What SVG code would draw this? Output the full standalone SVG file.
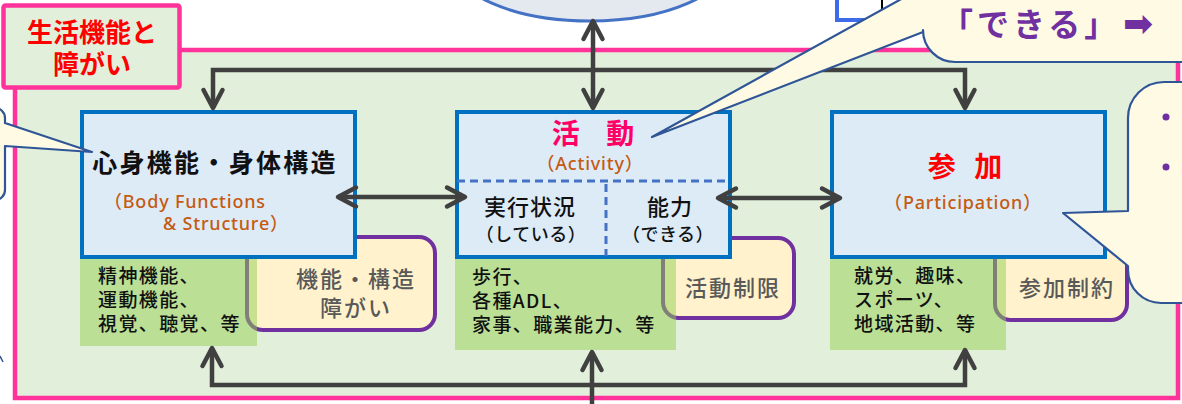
<svg xmlns="http://www.w3.org/2000/svg" width="1182" height="404" viewBox="0 0 1182 404">
<defs>
<style>
.jp{font-family:'Noto Sans CJK JP','Noto Sans',sans-serif;}
.en{font-family:'Noto Sans','Noto Sans CJK JP',sans-serif;fill:#C55A11;font-size:18px;font-weight:500;letter-spacing:0.8px;}
.blue{fill:#DDEBF7;stroke:#0070C0;stroke-width:4;}
.green{fill:#92D050;fill-opacity:0.5;}
.orange{fill:#FFF2CC;stroke:#7030A0;stroke-width:4;}
.gtxt{font-size:19px;letter-spacing:1.4px;fill:#111;font-weight:500;}
.gray{font-size:22px;letter-spacing:2px;fill:#595959;text-anchor:middle;font-weight:500;}
.bub{fill:#FFFAE3;stroke:#2F5597;stroke-width:2.2;stroke-linejoin:round;}
.con{fill:none;stroke:#404040;stroke-width:4.5;}
</style>
<marker id="ah" viewBox="-22 -13 26 26" refX="0" refY="0" markerWidth="26" markerHeight="26" markerUnits="userSpaceOnUse" orient="auto-start-reverse">
<path d="M-18,-9.5 L0,0 L-18,9.5" fill="none" stroke="#404040" stroke-width="4.5" stroke-linecap="round" stroke-linejoin="round"/>
</marker>
</defs>
<rect width="1182" height="404" fill="#FFFFFF"/>

<g id="top-ellipse">
<ellipse cx="590" cy="-39" rx="138" ry="60" fill="#E4E8EF" stroke="#4472C4" stroke-width="3"/>
</g>
<g id="top-right-box">
<path d="M837,-5 L837,20 L880,20" fill="#FFFFFF" stroke="#3D6BEA" stroke-width="4"/>
<path d="M882,-2 L882,14" stroke="#000000" stroke-width="2"/>
</g>

<g id="frame">
<rect x="15" y="50" width="1163" height="348" fill="#E2EFDA" stroke="#FF3399" stroke-width="4.5"/>
</g>
<g id="frame-label">
<rect x="3.5" y="5.5" width="176" height="82" rx="2" fill="#E2EFDA" stroke="#FF3399" stroke-width="4.5"/>
<text class="jp" x="92" y="42" font-size="26" font-weight="700" fill="#FF0000" text-anchor="middle">生活機能と</text>
<text class="jp" x="92" y="74" font-size="26" font-weight="700" fill="#FF0000" text-anchor="middle">障がい</text>
</g>

<g id="impairment">
<rect class="orange" x="247" y="237" width="188" height="93" rx="16"/>
<text class="jp gray" x="356" y="287">機能・構造</text>
<text class="jp gray" x="356" y="316">障がい</text>
</g>
<g id="activity-limitation">
<rect class="orange" x="663" y="238" width="131" height="80" rx="16"/>
<text class="jp gray" x="733" y="296">活動制限</text>
</g>
<g id="participation-restriction">
<rect class="orange" x="995" y="238" width="132" height="82" rx="16"/>
<text class="jp gray" x="1067" y="296">参加制約</text>
</g>

<g id="body-examples">
<rect class="green" x="80" y="257" width="177" height="89"/>
<text class="jp gtxt" x="98" y="283">精神機能、</text>
<text class="jp gtxt" x="98" y="307">運動機能、</text>
<text class="jp gtxt" x="98" y="331">視覚、聴覚、等</text>
</g>
<g id="activity-examples">
<rect class="green" x="455" y="257" width="221" height="93"/>
<text class="jp gtxt" x="472" y="284">歩行、</text>
<text class="jp gtxt" x="472" y="308">各種ADL、</text>
<text class="jp gtxt" x="472" y="332">家事、職業能力、等</text>
</g>
<g id="participation-examples">
<rect class="green" x="830" y="257" width="176" height="93"/>
<text class="jp gtxt" x="854" y="283">就労、趣味、</text>
<text class="jp gtxt" x="854" y="307">スポーツ、</text>
<text class="jp gtxt" x="854" y="331">地域活動、等</text>
</g>

<g id="body-functions">
<rect class="blue" x="82" y="112" width="273" height="145"/>
<text class="jp" x="215" y="172" font-size="25" font-weight="700" letter-spacing="2.3" fill="#111" text-anchor="middle">心身機能・身体構造</text>
<text class="en" x="104" y="208">（Body Functions</text>
<text class="en" x="163" y="230">&amp; Structure）</text>
</g>
<g id="activity">
<rect class="blue" x="457" y="112" width="273" height="145"/>
<text class="jp" x="598" y="144" font-size="28" font-weight="700" letter-spacing="10" fill="#FF0066" text-anchor="middle">活 動</text>
<text class="en" x="590" y="170" text-anchor="middle">（Activity）</text>
<path d="M457,181 L730,181" stroke="#4472C4" stroke-width="3" stroke-dasharray="8 5"/>
<path d="M606,184 L606,256" stroke="#4472C4" stroke-width="3" stroke-dasharray="8 5"/>
<text class="jp" x="530" y="215" font-size="22" font-weight="500" letter-spacing="1" fill="#111" text-anchor="middle">実行状況</text>
<text class="jp" x="531" y="241" font-size="18" font-weight="500" letter-spacing="0.5" fill="#111" text-anchor="middle">（している）</text>
<text class="jp" x="670" y="215" font-size="22" font-weight="500" letter-spacing="1" fill="#111" text-anchor="middle">能力</text>
<text class="jp" x="668" y="241" font-size="18" font-weight="500" letter-spacing="0.5" fill="#111" text-anchor="middle">（できる）</text>
</g>
<g id="participation">
<rect class="blue" x="832" y="112" width="273" height="145"/>
<text class="jp" x="968" y="177" font-size="28" font-weight="700" letter-spacing="6" fill="#FF0000" text-anchor="middle">参 加</text>
<text class="en" x="963" y="209" text-anchor="middle">（Participation）</text>
</g>

<g id="connectors">
<path class="con" d="M213,108 L213,70 L965,70 L965,108" marker-start="url(#ah)" marker-end="url(#ah)"/>
<path class="con" d="M593,21 L593,108" marker-start="url(#ah)" marker-end="url(#ah)"/>
<path class="con" d="M338,197 L465,197" marker-start="url(#ah)" marker-end="url(#ah)"/>
<path class="con" d="M718,198 L840,198" marker-start="url(#ah)" marker-end="url(#ah)"/>
<path class="con" d="M212,348 L212,385 L965,385 L965,350" marker-start="url(#ah)" marker-end="url(#ah)"/>
<path class="con" d="M592,406 L592,352" marker-end="url(#ah)"/>
</g>

<g id="left-bubble">
<path class="bub" d="M-10,108 L-5,108 A10,10 0 0 1 5,118 L5,123 L92,152 L5,146 L5,190 A10,10 0 0 1 -5,200 L-10,200 Z"/>
</g>
<path d="M0,356 L3,362" stroke="#2F5597" stroke-width="1.5"/>
<g id="top-bubble">
<path class="bub" d="M923,-20 L923,-13 L652,137 L923,32 L923,30 A32,32 0 0 0 955,62 L1190,62 L1190,-20 Z"/>
<text class="jp" x="941" y="36" font-size="32" font-weight="700" letter-spacing="4" fill="#7030A0">「できる」</text>
<text x="1123" y="36" font-family="'DejaVu Sans',sans-serif" font-size="36" font-weight="700" fill="#7030A0">➡</text>
</g>
<g id="right-bubble">
<path class="bub" d="M1128,211 L1063,213 L1128,266 L1128,270 A33,33 0 0 0 1161,303 L1190,303 L1190,82 L1164,82 A36,36 0 0 0 1128,118 Z"/>
<circle cx="1166" cy="117" r="3.5" fill="#7030A0"/>
<circle cx="1166" cy="167" r="3.5" fill="#7030A0"/>
</g>
</svg>
